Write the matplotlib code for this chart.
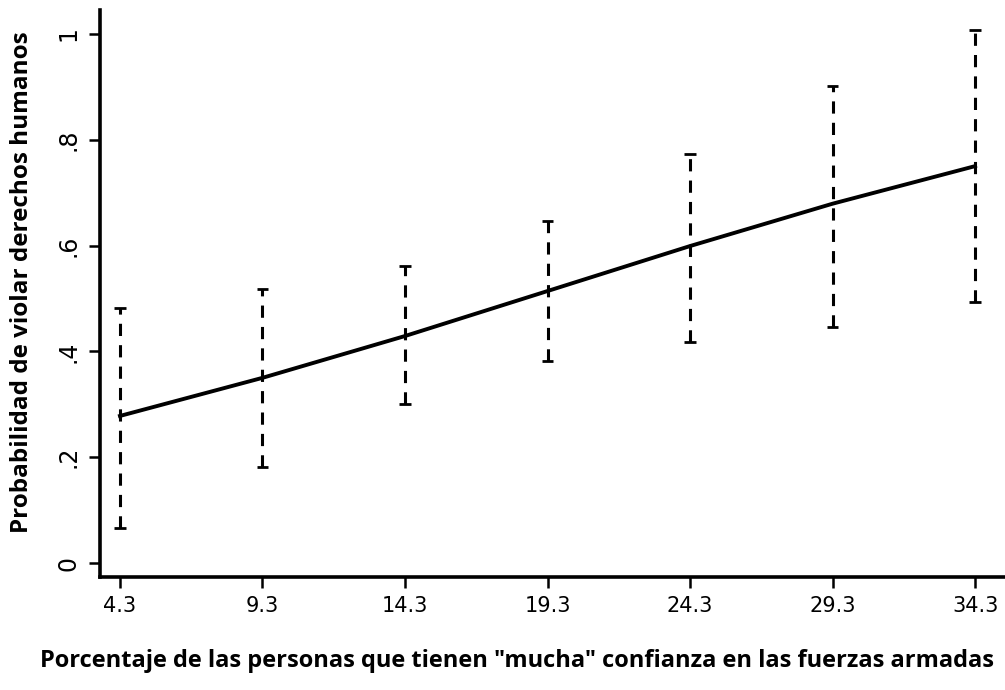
import numpy as np
import matplotlib.pyplot as plt

# predicted probability with 95% CI by share of people with "mucha" confidence
confianza = [4.3, 9.3, 14.3, 19.3, 24.3, 29.3, 34.3]
prob = [0.278, 0.350, 0.429, 0.514, 0.599, 0.679, 0.750]
ci_low = [0.066, 0.181, 0.300, 0.382, 0.418, 0.446, 0.493]
ci_high = [0.482, 0.518, 0.561, 0.646, 0.773, 0.902, 1.008]
yticks = [0, 0.2, 0.4, 0.6, 0.8, 1.0]
ytick_labels = ["0", ".2", ".4", ".6", ".8", "1"]

fig = plt.figure(figsize=(10.05, 6.9), dpi=100)
ax = fig.add_axes([0.0995, 0.164, 0.9005, 0.8215])

x = np.array(confianza)
cap = 0.2
ax.vlines(x, ci_low, ci_high, colors="black", linestyles=(0, (4, 3)), linewidth=2.2)
ax.hlines(ci_low, x - cap, x + cap, colors="black", linewidth=2.0)
ax.hlines(ci_high, x - cap, x + cap, colors="black", linewidth=2.0)
ax.plot(x, prob, color="black", linewidth=2.8)

ax.set_xlim(3.6, 35.35)
ax.set_ylim(-0.026, 1.045)
ax.set_xticks(confianza)
ax.set_xticklabels([str(v) for v in confianza], family="DejaVu Sans", fontsize=15)
ax.set_yticks(yticks)
ax.set_yticklabels(ytick_labels, family="DejaVu Sans", fontsize=17,
                   rotation=90, va="center")

for side in ("top", "right"):
    ax.spines[side].set_visible(False)
for side in ("left", "bottom"):
    ax.spines[side].set_linewidth(2.6)
ax.tick_params(direction="out", length=8, width=1.8, pad=6)

ax.set_xlabel('Porcentaje de las personas que tienen "mucha" confianza en las fuerzas armadas',
              family="Open Sans", fontweight="bold", fontsize=17)
ax.xaxis.set_label_coords(0.461, -0.128)
ax.set_ylabel("Probabilidad de violar derechos humanos",
              family="Open Sans", fontweight="bold", fontsize=17.5)
ax.yaxis.set_label_coords(-0.073, 0.52)

fig.savefig("out.png", dpi=100)
